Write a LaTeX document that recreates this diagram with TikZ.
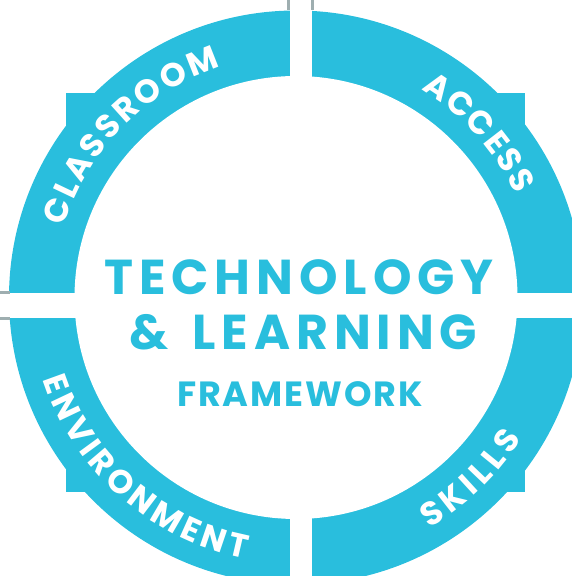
\documentclass[tikz,border=0pt]{standalone}
\usepackage{fontspec}
\setmainfont{Poppins}
\newfontfamily\titlefont[LetterSpace=12]{Poppins}
\newfontfamily\subfont[LetterSpace=5.5]{Poppins}
\newfontfamily\ringfont{Poppins}
\usetikzlibrary{decorations.text}
\definecolor{ringblue}{HTML}{29BEDD}
\definecolor{guidegray}{HTML}{9EAEB0}

\begin{document}
\begin{tikzpicture}[x=1pt,y=1pt,line join=round,
    title/.style={text=ringblue,inner sep=0pt,anchor=base},
    ringtext/.style={decorate,decoration={text along path,text align=fit to path,
        text color=white,text={|\ringfont\bfseries\fontsize{33}{33}\selectfont|#1}}}]
  \useasboundingbox (0,0) rectangle (572,576);
  \clip (0,0) rectangle (572,576);
  \coordinate (c) at (296,278.5);
  \fill[ringblue] (c) circle (287);
  \fill[ringblue] (66,84) rectangle (525,483);
  \fill[white] (c) circle (221.5);
  \fill[white] (290,0) rectangle (312,576);
  \fill[white] (0,258) rectangle (572,283);
  \draw[guidegray,line width=2.5pt] (288.7,576)-- (288.7,566);
  \draw[guidegray,line width=2.5pt] (312.3,576)-- (312.3,566);
  \draw[guidegray,line width=2.5pt] (0,283.3)-- (10,283.3);
  \draw[guidegray,line width=2.5pt] (0,257.5)-- (10,257.5);
  \path[ringtext=CLASSROOM,shift={(c)}] (163:242.5) arc[start angle=163,end angle=108,radius=242.5];
  \path[ringtext=ACCESS,shift={(c)}] (59:242.5) arc[start angle=59,end angle=25,radius=242.5];
  \path[ringtext=SKILLS,shift={(c)}] (-60:266) arc[start angle=-60,end angle=-32,radius=266];
  \path[ringtext=ENVIRONMENT,shift={(c)}] (198:266) arc[start angle=198,end angle=259,radius=266];
  \node[title,font=\titlefont\bfseries\fontsize{49}{49}\selectfont] (tech) at (299,281) {TECHNOLOGY};
  \node[title,font=\titlefont\bfseries\fontsize{49}{49}\selectfont] (learn) at (303.5,226) {\&\hspace{24pt}LEARNING};
  \node[title,font=\subfont\bfseries\fontsize{35}{35}\selectfont] (frame) at (300,169) {FRAMEWORK};
\end{tikzpicture}
\end{document}
